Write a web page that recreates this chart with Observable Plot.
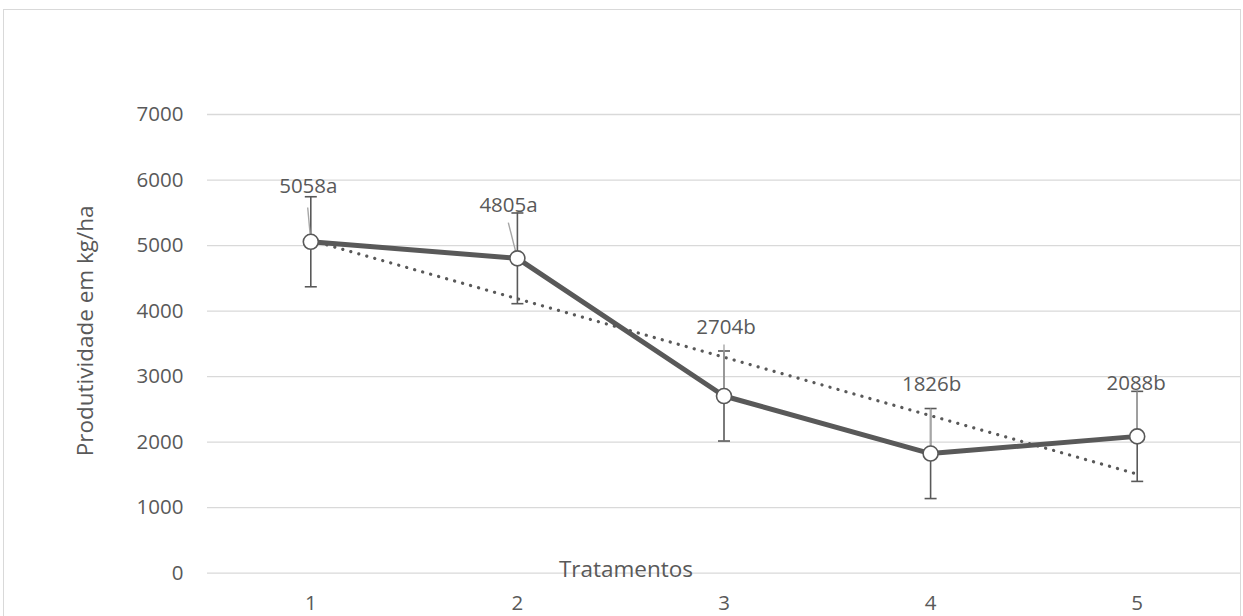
<!DOCTYPE html>
<html><head><meta charset="utf-8">
<script src="https://cdn.jsdelivr.net/npm/d3@7"></script>
<script src="https://cdn.jsdelivr.net/npm/@observablehq/plot@0.6"></script>
<style>
html,body{margin:0;padding:0;background:#fff;overflow:hidden;}
#wrap{position:relative;width:1243px;height:616px;overflow:hidden;}
#border{position:absolute;left:3px;top:9px;width:1238px;height:660px;border:1.5px solid #d9d9d9;box-sizing:border-box;}
#chart{position:absolute;left:0;top:0;}
</style></head><body>
<div id="wrap"><div id="border"></div><div id="chart"></div></div>
<script>
const tratamentos = [1, 2, 3, 4, 5];
const produtividade = [5058, 4805, 2704, 1826, 2088];
const erro = [687, 692, 687, 687, 687];
const rotulos = ["5058a", "4805a", "2704b", "1826b", "2088b"];
const rotuloX = [0.988, 1.957, 3.01, 4.005, 4.995];
const rotuloY = [5900, 5610, 3750, 2880, 2895];
const guiaX = [0.985, 1.956, 3, 4, 5];
const guiaTopo = [5580, 5350, 3490, 2513, 2774];
const yTicks = [0, 1000, 2000, 3000, 4000, 5000, 6000, 7000];
const xTicks = [1, 2, 3, 4, 5];
const tituloX = "Tratamentos";
const tituloY = "Produtividade em kg/ha";

const data = tratamentos.map((t, i) => ({
  x: t, y: produtividade[i], lo: produtividade[i] - erro[i], hi: produtividade[i] + erro[i],
  label: rotulos[i], lx: rotuloX[i], ly: rotuloY[i], gx: guiaX[i], gy: guiaTopo[i]
}));

const dark = "#595959";
const cap = {draw(ctx) { ctx.moveTo(-6, 0); ctx.lineTo(6, 0); }};

const chart = Plot.plot({
  width: 1243, height: 616,
  marginLeft: 207, marginRight: 3, marginTop: 114, marginBottom: 43.3,
  style: {fontFamily: "'Open Sans', sans-serif", fontSize: "20.5px", color: dark, background: "transparent"},
  x: {type: "linear", domain: [0.5, 5.5]},
  y: {type: "linear", domain: [0, 7000]},
  marks: [
    Plot.gridY(yTicks, {stroke: "#d9d9d9", strokeOpacity: 1, strokeWidth: 1.3}),
    Plot.axisY({ticks: yTicks, tickSize: 0, tickPadding: 24, label: null, tickFormat: d => String(d), fill: dark, fontSize: 20.5}),
    Plot.axisX({ticks: xTicks, tickSize: 0, tickPadding: 22, label: null, tickFormat: d => String(d), fill: dark, fontSize: 20.5}),
    Plot.text([tituloX], {frameAnchor: "bottom", dx: -98, dy: -3, lineAnchor: "middle", fill: dark, fontSize: 22.5}),
    Plot.text([tituloY], {frameAnchor: "left", textAnchor: "middle", dx: -122, dy: -13, rotate: -90, lineAnchor: "middle", fill: dark, fontSize: 22.5}),
    Plot.linearRegressionY(data, {x: "x", y: "y", ci: 0, stroke: dark, strokeWidth: 3.2, strokeDasharray: "0.1 8.2", strokeLinecap: "round"}),
    Plot.ruleX(data, {x: "x", y1: "lo", y2: "hi", stroke: dark, strokeWidth: 1.6}),
    Plot.dot(data, {x: "x", y: "lo", symbol: cap, stroke: dark, strokeWidth: 1.6, fill: "none"}),
    Plot.dot(data, {x: "x", y: "hi", symbol: cap, stroke: dark, strokeWidth: 1.6, fill: "none"}),
    Plot.line(data, {x: "x", y: "y", stroke: dark, strokeWidth: 5}),
    Plot.link(data, {x1: "gx", y1: "gy", x2: "x", y2: "y", stroke: "#a6a6a6", strokeWidth: 1.4}),
    Plot.dot(data, {x: "x", y: "y", r: 7.5, fill: "white", stroke: dark, strokeWidth: 1.6}),
    Plot.text(data, {x: "lx", y: "ly", text: "label", fill: dark, fontSize: 20.5, lineAnchor: "middle"})
  ]
});
document.getElementById("chart").appendChild(chart);
</script>
</body></html>
